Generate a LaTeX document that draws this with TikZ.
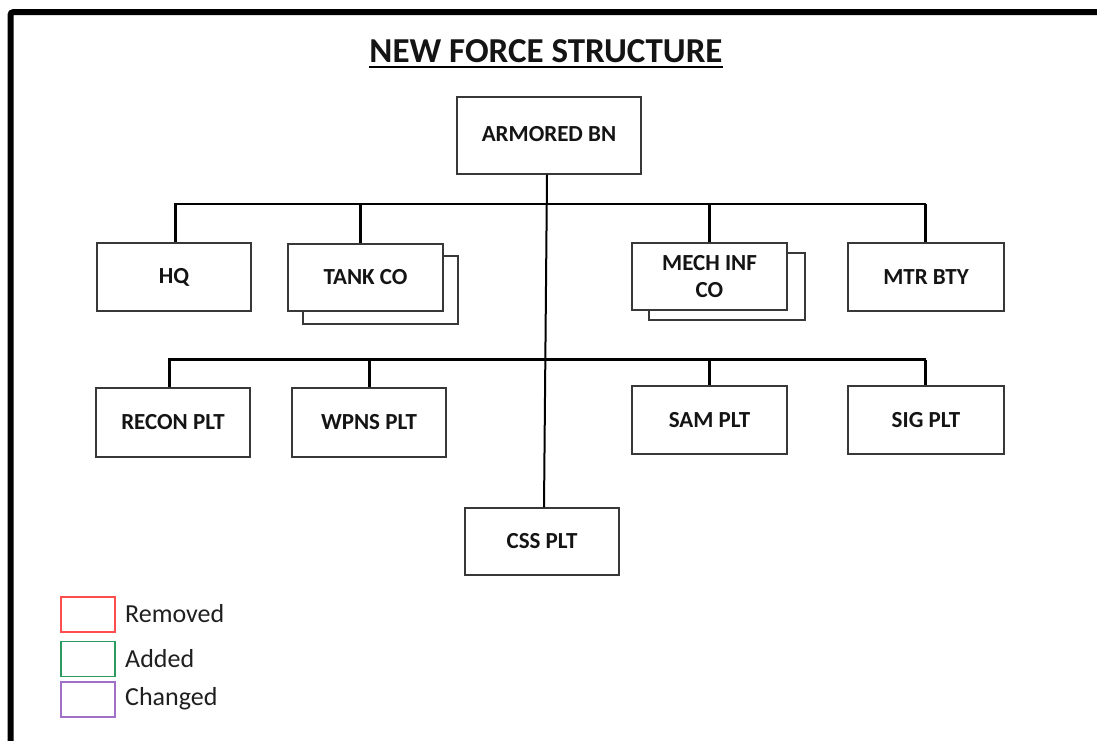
\documentclass[tikz,border=0pt]{standalone}
\usepackage{fontspec}
\setmainfont{Carlito}
\definecolor{remred}{HTML}{FF4D4D}
\definecolor{addgreen}{HTML}{2E9B5E}
\definecolor{chgpurple}{HTML}{A070C8}
\begin{document}
\begin{tikzpicture}[x=1pt,y=-1pt,
  unitbox/.style={draw=black!78, line width=1.2pt, fill=white, inner sep=0pt,
    align=center, text=black!92, font=\bfseries\fontsize{23}{27}\selectfont},
  bus/.style={line width=2.6pt, line cap=rect},
  drop/.style={line width=3pt},
  trunk/.style={line width=2pt},
  legbox/.style={draw=#1, line width=1.3pt, minimum width=54pt, minimum height=35pt, inner sep=0pt},
  legtext/.style={anchor=west, inner sep=0pt, text=black!88, font=\fontsize{26}{30}\selectfont}
]
\useasboundingbox (0,0) rectangle (1097,740);
\fill[white] (0,0) rectangle (1097,740);
% frame
\draw[line width=6pt, rounded corners=3pt] (1100,12) -- (10.5,12) -- (10.5,745);
% title
\node[anchor=base, inner sep=0pt, font=\bfseries\fontsize{35}{40}\selectfont, text=black!92] (title) at (546,62) {NEW FORCE STRUCTURE};
\draw[line width=2.4pt] (title.west |- 0,67) -- (title.east |- 0,67);
% top box
\node[unitbox, minimum width=184pt, minimum height=77pt] (arm) at (549,135.5) {\raisebox{3pt}{ARMORED BN}};
% second-rank boxes
\node[unitbox, minimum width=155pt, minimum height=68pt] (tankb) at (380.5,290) {};
\node[unitbox, minimum width=155pt, minimum height=67pt] (tank) at (365.5,277.5) {TANK CO};
\node[unitbox, minimum width=156pt, minimum height=67pt] (mechb) at (727,286.5) {};
\node[unitbox, minimum width=155pt, minimum height=67pt] (mech) at (709.5,276.5) {MECH INF\\CO};
\node[unitbox, minimum width=154pt, minimum height=68pt] (hq) at (174,277) {HQ};
\node[unitbox, minimum width=156pt, minimum height=68pt] (mtr) at (926,277) {MTR BTY};
% third-rank boxes
\node[unitbox, minimum width=154pt, minimum height=69pt] (recon) at (173,422.5) {RECON PLT};
\node[unitbox, minimum width=154pt, minimum height=69pt] (wpns) at (369,422.5) {WPNS PLT};
\node[unitbox, minimum width=155pt, minimum height=68pt] (sam) at (709.5,420) {SAM PLT};
\node[unitbox, minimum width=156pt, minimum height=68pt] (sig) at (926,420) {SIG PLT};
\node[unitbox, minimum width=154pt, minimum height=67pt] (css) at (542,541.5) {CSS PLT};
% bus coordinates
\coordinate (b1l) at (175,204);
\coordinate (b1r) at (925,204);
\coordinate (b2l) at (169,359.5);
\coordinate (b2r) at (925,359.5);
% trunk
\draw[trunk] ([xshift=-2pt]arm.south) -- ([xshift=2pt]css.north);
% bus 1
\draw[bus] (b1l) -- (b1r);
\draw[drop] (b1l) -- (b1l |- hq.north);
\draw[drop] (360,204) -- (360,0 |- tank.north);
\draw[drop] (709,204) -- (709,0 |- mech.north);
\draw[drop] (b1r) -- (b1r |- mtr.north);
% bus 2
\draw[bus] (b2l) -- (b2r);
\draw[drop] (b2l) -- (b2l |- recon.north);
\draw[drop] (369,359.5) -- (369,0 |- wpns.north);
\draw[drop] (709,359.5) -- (709,0 |- sam.north);
\draw[drop] (b2r) -- (b2r |- sig.north);
% legend
\node[legbox=remred] (lr) at (88,614.5) {};
\node[legbox=addgreen] (lg) at (88,659) {};
\node[legbox=chgpurple] (lp) at (88,699.5) {};
\node[legtext] (tr) at (125,614) {Removed};
\node[legtext] (tg) at (125,658.5) {Added};
\node[legtext] (tp) at (125,699) {Changed};
\end{tikzpicture}
\end{document}
